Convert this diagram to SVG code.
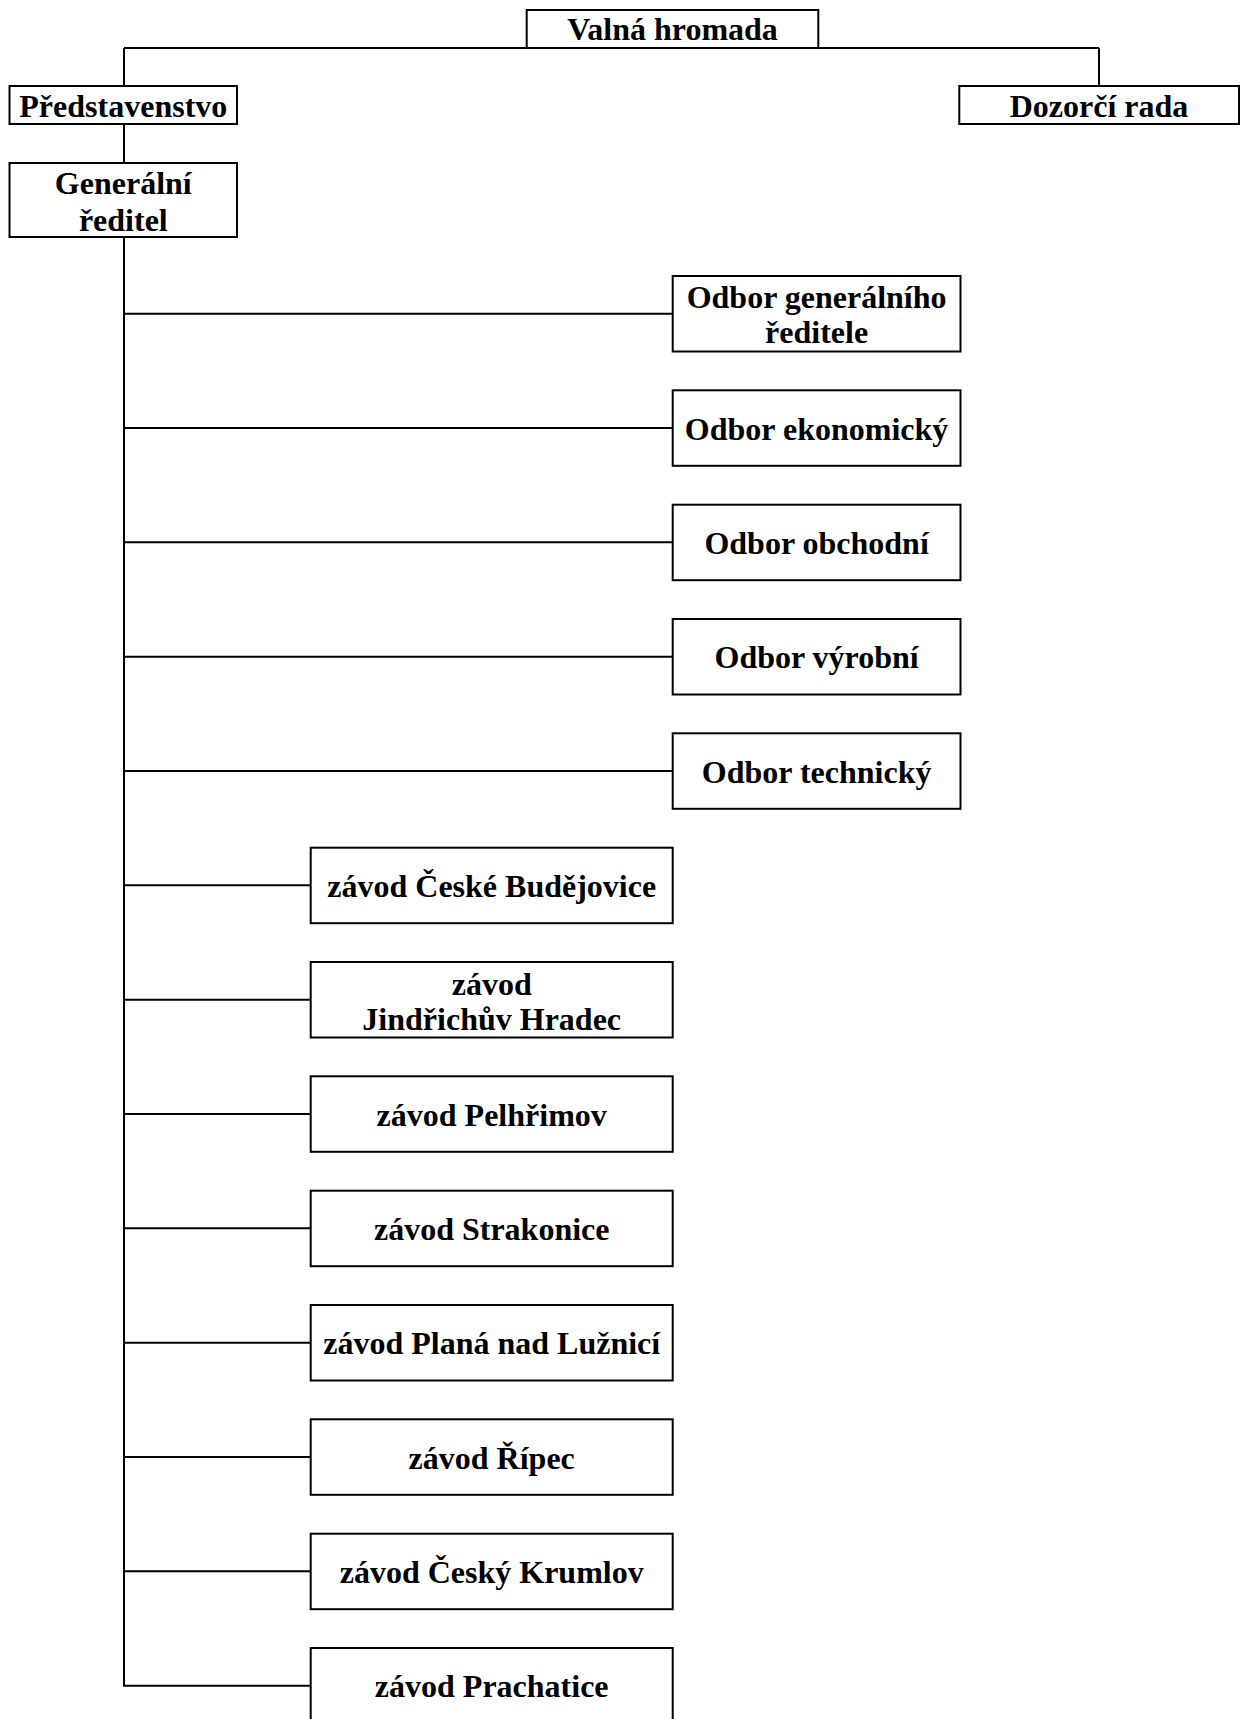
<svg xmlns="http://www.w3.org/2000/svg" width="1245" height="1719" viewBox="0 0 1245 1719">
<style>
rect.b{fill:#fff;stroke:#000;stroke-width:2}
.c line{stroke:#000;stroke-width:2;fill:none}
text{font-family:"Liberation Serif","Times New Roman",serif;font-weight:bold;font-size:32px;fill:#000;text-anchor:middle}
</style>
<rect width="1245" height="1719" fill="#fff"/>
<g id="connectors" class="c">
<line x1="124" y1="48" x2="1099" y2="48"/>
<line x1="124" y1="48" x2="124" y2="86"/>
<line x1="1099" y1="48" x2="1099" y2="86"/>
<line x1="124" y1="124" x2="124" y2="163"/>
<line x1="124" y1="237" x2="124" y2="1685.7"/>
<line x1="124" y1="313.7" x2="672.7" y2="313.7"/>
<line x1="124" y1="428" x2="672.7" y2="428"/>
<line x1="124" y1="542.3" x2="672.7" y2="542.3"/>
<line x1="124" y1="656.7" x2="672.7" y2="656.7"/>
<line x1="124" y1="771" x2="672.7" y2="771"/>
<line x1="124" y1="885.3" x2="310.7" y2="885.3"/>
<line x1="124" y1="999.7" x2="310.7" y2="999.7"/>
<line x1="124" y1="1114" x2="310.7" y2="1114"/>
<line x1="124" y1="1228.3" x2="310.7" y2="1228.3"/>
<line x1="124" y1="1342.7" x2="310.7" y2="1342.7"/>
<line x1="124" y1="1457" x2="310.7" y2="1457"/>
<line x1="124" y1="1571.3" x2="310.7" y2="1571.3"/>
<line x1="123" y1="1685.7" x2="310.7" y2="1685.7"/>
</g>
<g id="valna"><rect class="b" x="526.7" y="10" width="291.6" height="38"/><text x="672.5" y="40">Valná hromada</text></g>
<g id="predstavenstvo"><rect class="b" x="9.5" y="86" width="227.5" height="38"/><text x="123.3" y="117">Představenstvo</text></g>
<g id="dozorci"><rect class="b" x="959.3" y="86" width="279.7" height="38"/><text x="1099" y="117">Dozorčí rada</text></g>
<g id="generalni"><rect class="b" x="9.5" y="163" width="227.5" height="74"/><text x="123.3" y="194">Generální</text><text x="123.3" y="230.5">ředitel</text></g>
<g id="odbor-gr"><rect class="b" x="672.7" y="276" width="287.8" height="75.5"/><text x="816.6" y="307.5">Odbor generálního</text><text x="816.6" y="343">ředitele</text></g>
<g id="odbor-ek"><rect class="b" x="672.7" y="390.3" width="287.8" height="75.5"/><text x="816.6" y="439.5">Odbor ekonomický</text></g>
<g id="odbor-ob"><rect class="b" x="672.7" y="504.7" width="287.8" height="75.5"/><text x="816.6" y="553.8">Odbor obchodní</text></g>
<g id="odbor-vy"><rect class="b" x="672.7" y="619" width="287.8" height="75.5"/><text x="816.6" y="668.2">Odbor výrobní</text></g>
<g id="odbor-te"><rect class="b" x="672.7" y="733.3" width="287.8" height="75.5"/><text x="816.6" y="782.5">Odbor technický</text></g>
<g id="zavod-cb"><rect class="b" x="310.7" y="847.7" width="362" height="75.5"/><text x="491.7" y="896.8">závod České Budějovice</text></g>
<g id="zavod-jh"><rect class="b" x="310.7" y="962" width="362" height="75.5"/><text x="491.7" y="995">závod</text><text x="491.7" y="1030">Jindřichův Hradec</text></g>
<g id="zavod-pe"><rect class="b" x="310.7" y="1076.3" width="362" height="75.5"/><text x="491.7" y="1125.5">závod Pelhřimov</text></g>
<g id="zavod-st"><rect class="b" x="310.7" y="1190.7" width="362" height="75.5"/><text x="491.7" y="1239.8">závod Strakonice</text></g>
<g id="zavod-pl"><rect class="b" x="310.7" y="1305" width="362" height="75.5"/><text x="491.7" y="1354.2">závod Planá nad Lužnicí</text></g>
<g id="zavod-ri"><rect class="b" x="310.7" y="1419.3" width="362" height="75.5"/><text x="491.7" y="1468.5">závod Řípec</text></g>
<g id="zavod-ck"><rect class="b" x="310.7" y="1533.7" width="362" height="75.5"/><text x="491.7" y="1582.8">závod Český Krumlov</text></g>
<g id="zavod-pr"><rect class="b" x="310.7" y="1648" width="362" height="80"/><text x="491.7" y="1697.2">závod Prachatice</text></g>
</svg>
